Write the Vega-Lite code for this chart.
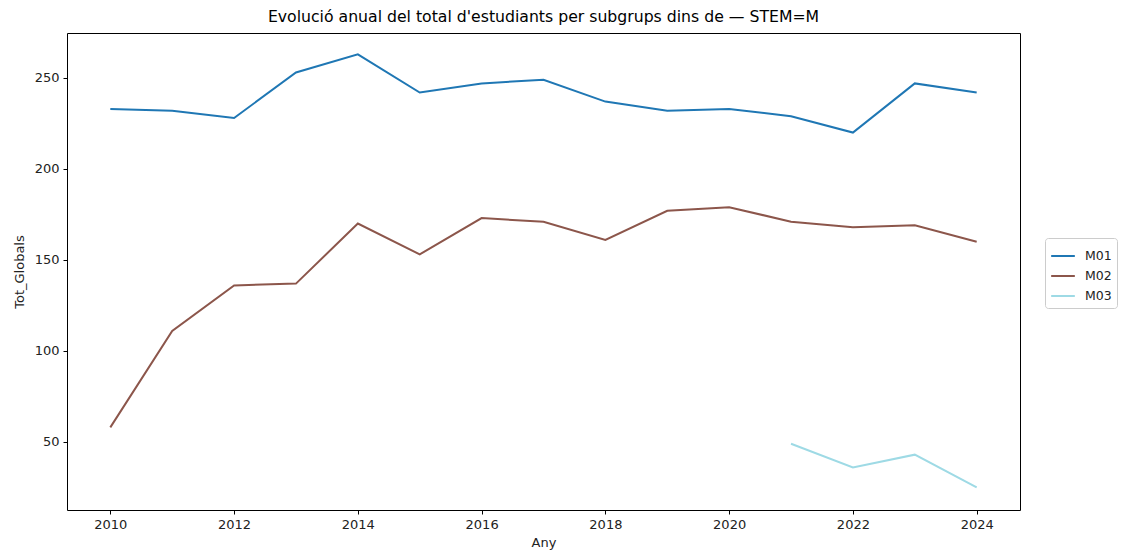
{
  "$schema": "https://vega.github.io/schema/vega-lite/v6.json",
  "width": 953,
  "height": 477,
  "autosize": {"type": "none"},
  "padding": {"left": 67, "top": 33, "right": 102, "bottom": 42},
  "background": "white",
  "title": {"text": "Evolució anual del total d'estudiants per subgrups dins de — STEM=M", "font": "DejaVu Sans", "fontSize": 15.7, "fontWeight": "normal", "color": "black", "offset": 7, "anchor": "middle"},
  "config": {
    "view": {"stroke": "black", "strokeWidth": 1},
    "axis": {"labelFont": "DejaVu Sans", "titleFont": "DejaVu Sans", "labelFontSize": 13, "titleFontSize": 13, "titleFontWeight": "normal", "labelColor": "#222", "titleColor": "#222", "tickColor": "black", "domain": false, "grid": false, "tickSize": 4}
  },
  "data": {"values": [
    {"Any": 2010, "Subgrup": "M01", "Tot_Globals": 233},
    {"Any": 2011, "Subgrup": "M01", "Tot_Globals": 232},
    {"Any": 2012, "Subgrup": "M01", "Tot_Globals": 228},
    {"Any": 2013, "Subgrup": "M01", "Tot_Globals": 253},
    {"Any": 2014, "Subgrup": "M01", "Tot_Globals": 263},
    {"Any": 2015, "Subgrup": "M01", "Tot_Globals": 242},
    {"Any": 2016, "Subgrup": "M01", "Tot_Globals": 247},
    {"Any": 2017, "Subgrup": "M01", "Tot_Globals": 249},
    {"Any": 2018, "Subgrup": "M01", "Tot_Globals": 237},
    {"Any": 2019, "Subgrup": "M01", "Tot_Globals": 232},
    {"Any": 2020, "Subgrup": "M01", "Tot_Globals": 233},
    {"Any": 2021, "Subgrup": "M01", "Tot_Globals": 229},
    {"Any": 2022, "Subgrup": "M01", "Tot_Globals": 220},
    {"Any": 2023, "Subgrup": "M01", "Tot_Globals": 247},
    {"Any": 2024, "Subgrup": "M01", "Tot_Globals": 242},
    {"Any": 2010, "Subgrup": "M02", "Tot_Globals": 58},
    {"Any": 2011, "Subgrup": "M02", "Tot_Globals": 111},
    {"Any": 2012, "Subgrup": "M02", "Tot_Globals": 136},
    {"Any": 2013, "Subgrup": "M02", "Tot_Globals": 137},
    {"Any": 2014, "Subgrup": "M02", "Tot_Globals": 170},
    {"Any": 2015, "Subgrup": "M02", "Tot_Globals": 153},
    {"Any": 2016, "Subgrup": "M02", "Tot_Globals": 173},
    {"Any": 2017, "Subgrup": "M02", "Tot_Globals": 171},
    {"Any": 2018, "Subgrup": "M02", "Tot_Globals": 161},
    {"Any": 2019, "Subgrup": "M02", "Tot_Globals": 177},
    {"Any": 2020, "Subgrup": "M02", "Tot_Globals": 179},
    {"Any": 2021, "Subgrup": "M02", "Tot_Globals": 171},
    {"Any": 2022, "Subgrup": "M02", "Tot_Globals": 168},
    {"Any": 2023, "Subgrup": "M02", "Tot_Globals": 169},
    {"Any": 2024, "Subgrup": "M02", "Tot_Globals": 160},
    {"Any": 2021, "Subgrup": "M03", "Tot_Globals": 49},
    {"Any": 2022, "Subgrup": "M03", "Tot_Globals": 36},
    {"Any": 2023, "Subgrup": "M03", "Tot_Globals": 43},
    {"Any": 2024, "Subgrup": "M03", "Tot_Globals": 25}
  ]},
  "mark": {"type": "line", "strokeWidth": 2},
  "encoding": {
    "x": {"field": "Any", "type": "quantitative", "scale": {"domain": [2009.3, 2024.7], "nice": false, "zero": false}, "axis": {"values": [2010, 2012, 2014, 2016, 2018, 2020, 2022, 2024], "format": "d", "title": "Any", "titlePadding": 5, "labelPadding": 4}},
    "y": {"field": "Tot_Globals", "type": "quantitative", "scale": {"domain": [12.6, 274.7], "nice": false, "zero": false}, "axis": {"values": [50, 100, 150, 200, 250], "title": "Tot_Globals", "titlePadding": 8, "labelPadding": 4}},
    "color": {"field": "Subgrup", "type": "nominal", "scale": {"domain": ["M01", "M02", "M03"], "range": ["#1f77b4", "#8c564b", "#9edae5"]}, "legend": {"title": null, "orient": "none", "legendX": 978, "legendY": 205, "labelFont": "DejaVu Sans", "labelFontSize": 12.5, "labelColor": "#222", "labelOffset": 9, "symbolType": "stroke", "symbolSize": 560, "symbolStrokeWidth": 2, "strokeColor": "#cccccc", "padding": 5, "cornerRadius": 3, "fillColor": "white", "rowPadding": 0}}
  }
}
